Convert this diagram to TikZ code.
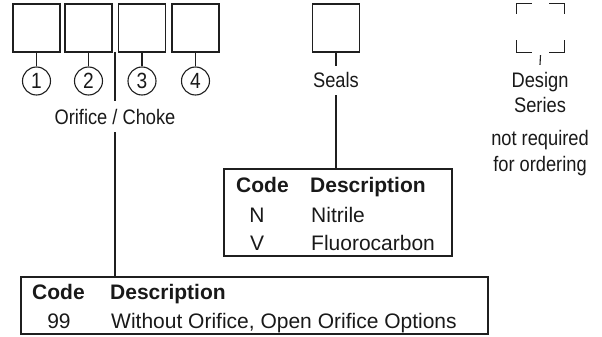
\documentclass[tikz,border=0pt]{standalone}
\usepackage{fontspec}
\setmainfont{Liberation Sans}
\newfontfamily\condfont[FakeStretch=0.87]{Liberation Sans}
\begin{document}
\begin{tikzpicture}[x=1pt,y=-1pt,
  ink/.style={black!88},
  line/.style={ink, line width=1.3pt},
  box/.style={draw=black!88, line width=1.3pt, minimum width=47pt, minimum height=48pt, inner sep=0pt},
  num/.style={draw=black!88, line width=1.1pt, circle, minimum size=28pt, inner sep=0pt, text=black!90, font=\condfont\fontsize{22}{26}\selectfont},
  lbl/.style={text=black!90, font=\condfont\fontsize{21}{25}\selectfont, inner sep=0pt, anchor=base},
  stemlbl/.style={lbl, text height=15pt, text depth=0pt, inner ysep=7pt, inner xsep=0pt},
  tframe/.style={draw=black!88, line width=1.3pt, inner sep=0pt},
  hd/.style={text=black!90, font=\bfseries\fontsize{21}{25}\selectfont, inner sep=0pt, anchor=base west},
  tx/.style={text=black!90, font=\fontsize{21}{25}\selectfont, inner sep=0pt, anchor=base west},
  tc/.style={text=black!90, font=\fontsize{21}{25}\selectfont, inner sep=0pt, anchor=base}
]
\useasboundingbox (0,0) rectangle (602,337);

% code boxes
\node[box] (b1) at (36.5,28) {};
\node[box] (b2) at (88.5,28) {};
\node[box] (b3) at (142,28) {};
\node[box] (b4) at (195.5,28) {};

% numbered circles
\node[num] (c1) at (36.5,81) {1};
\node[num] (c2) at (88.5,81) {2};
\node[num] (c3) at (142,81) {3};
\node[num] (c4) at (195.5,81) {4};
\foreach \i in {1,2,3,4} \draw[line] (b\i.south) -- (c\i.north);

% Orifice / Choke
\node[lbl, text height=15pt, text depth=0pt, inner ysep=8pt] (oc) at (115,124) {Orifice / Choke};
\coordinate (ocj) at (115,52);
\draw[line] (ocj) -- (oc.north);

% bottom table
\node[tframe, minimum width=467pt, minimum height=57pt] (bt) at (254.5,305.5) {};
\draw[line] (oc.south) -- (oc.south |- bt.north);
\node[hd] (btc) at (32,299) {Code};
\node[hd] (btd) at (110,299) {Description};
\node[tc] (bt99) at (59,328) {99};
\node[tx] (btw) at (111,328) {Without Orifice, Open Orifice Options};

% Seals
\node[box] (sb) at (336,28) {};
\node[stemlbl] (seals) at (336,88) {Seals};
\draw[line] (sb.south) -- (seals.north);
\node[tframe, minimum width=228pt, minimum height=87pt] (st) at (338,212.5) {};
\draw[line] (seals.south) -- (seals.south |- st.north);
\node[hd] (stc) at (236,192) {Code};
\node[hd] (std) at (310,192) {Description};
\node[tc] (stn) at (257,222) {N};
\node[tx] (stnt) at (311,222) {Nitrile};
\node[tc] (stv) at (257,250) {V};
\node[tx] (stvt) at (311,250) {Fluorocarbon};

% Design series (dashed corners)
\node[minimum width=47pt, minimum height=48pt, inner sep=0pt] (ds) at (540.5,28) {};
\draw[line] ([xshift=15pt]ds.north west) -- (ds.north west) -- ([yshift=-10pt]ds.north west);
\draw[line] ([xshift=-15pt]ds.north east) -- (ds.north east) -- ([yshift=-10pt]ds.north east);
\draw[line] ([xshift=15pt]ds.south west) -- (ds.south west) -- ([yshift=12pt]ds.south west);
\draw[line] ([xshift=-15pt]ds.south east) -- (ds.south east) -- ([yshift=12pt]ds.south east);
\node[stemlbl] (design) at (540,87) {Design};
\coordinate (dsj) at ([yshift=-3pt]ds.south);
\draw[line, line width=1.1pt] (dsj) -- (design.north);
\node[lbl] (series) at (540,112.5) {Series};
\node[lbl] (notreq) at (540,145) {not required};
\node[lbl] (forord) at (540,171) {for ordering};
\end{tikzpicture}
\end{document}
